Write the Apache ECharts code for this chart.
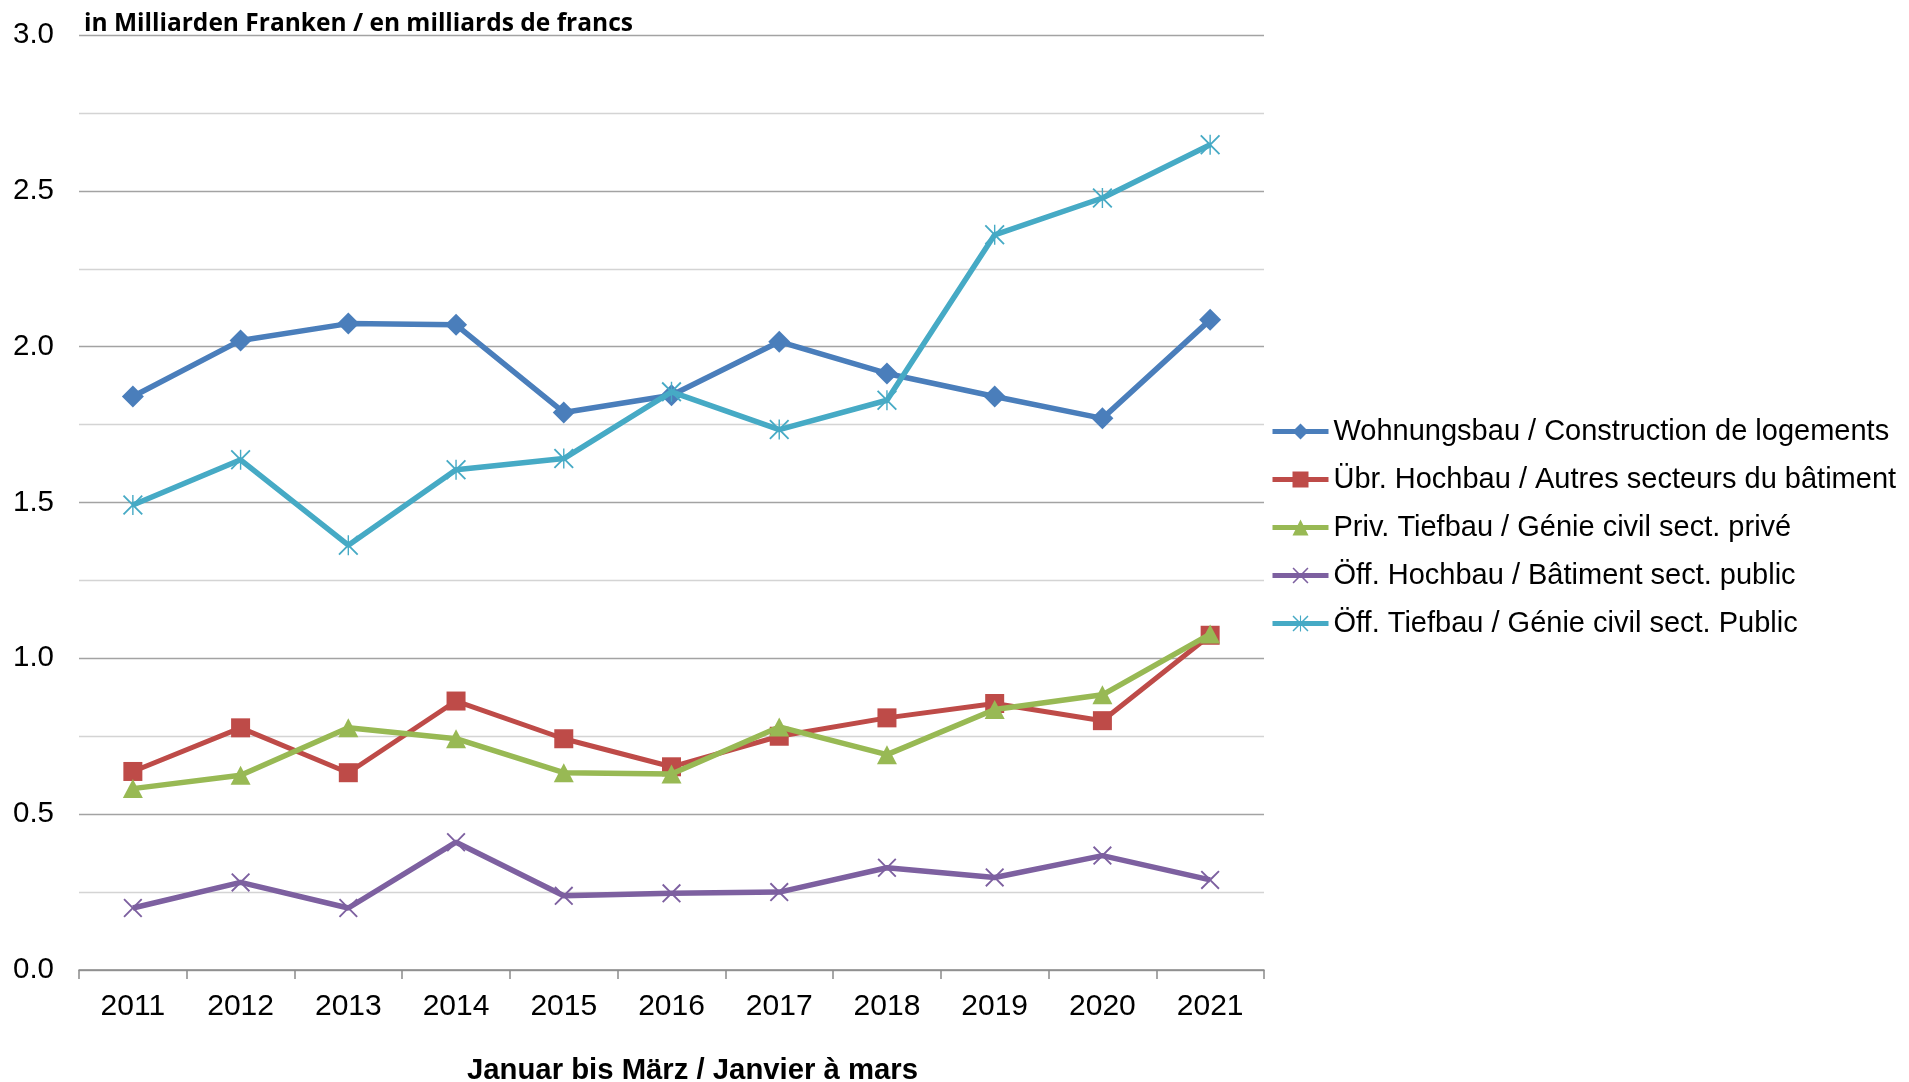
<!DOCTYPE html>
<html>
<head>
<meta charset="utf-8">
<script src="https://cdn.jsdelivr.net/npm/echarts@6/dist/echarts.min.js"></script>
<style>html,body{margin:0;padding:0;background:#fff}#c{width:1909px;height:1082px}</style>
</head>
<body>
<div id="c"></div>
<script>
const years = ['2011','2012','2013','2014','2015','2016','2017','2018','2019','2020','2021'];
const seriesNames = [
  'Wohnungsbau / Construction de logements',
  'Übr. Hochbau / Autres secteurs du bâtiment',
  'Priv. Tiefbau / Génie civil sect. privé',
  'Öff. Hochbau / Bâtiment sect. public',
  'Öff. Tiefbau / Génie civil sect. Public'
];
const wohnungsbau = [1.84, 2.02, 2.074, 2.07, 1.789, 1.844, 2.016, 1.914, 1.84, 1.77, 2.086];
const uebrHochbau = [0.637, 0.777, 0.633, 0.863, 0.742, 0.652, 0.75, 0.809, 0.855, 0.80, 1.074];
const privTiefbau = [0.582, 0.625, 0.777, 0.742, 0.633, 0.629, 0.78, 0.691, 0.836, 0.883, 1.078];
const oeffHochbau = [0.199, 0.281, 0.199, 0.41, 0.238, 0.246, 0.25, 0.328, 0.297, 0.367, 0.289];
const oeffTiefbau = [1.492, 1.637, 1.363, 1.605, 1.641, 1.855, 1.734, 1.828, 2.359, 2.477, 2.648];
const titleText = 'in Milliarden Franken / en milliards de francs';
const xAxisTitle = 'Januar bis März / Janvier à mars';

const colors = ['#4a7ebb', '#be4b48', '#98b954', '#7d60a0', '#46aac5'];
const xPath = 'path://M0,1.4L1.4,0L10,8.6L18.6,0L20,1.4L11.4,10L20,18.6L18.6,20L10,11.4L1.4,20L0,18.6L8.6,10Z';
const starPath = 'path://M0,1.3L1.3,0L10,8.7L18.7,0L20,1.3L11.3,10L20,18.7L18.7,20L10,11.3L1.3,20L0,18.7L8.7,10Z M9.3,0L10.7,0L10.7,20L9.3,20Z';

const chart = echarts.init(document.getElementById('c'));
const font = 'Liberation Sans, Arial, sans-serif';
function mk(i, data, symbol, size, lw) {
  return {
    name: seriesNames[i], type: 'line', data: data,
    symbol: symbol, symbolSize: size, showAllSymbol: true,
    lineStyle: { color: colors[i], width: lw },
    itemStyle: { color: colors[i] },
    emphasis: { disabled: true }, animation: false, z: 2 + i
  };
}
chart.setOption({
  animation: false,
  color: colors,
  title: {
    text: titleText, left: 79, top: 7,
    textStyle: { fontFamily: 'Open Sans, sans-serif', fontWeight: 'bold', fontSize: 24.5, color: '#000' }
  },
  grid: { left: 79, right: 645, top: 35, bottom: 112, containLabel: false, outerBoundsMode: 'none' },
  legend: {
    orient: 'vertical', left: 1265, top: 412, itemGap: 19,
    itemWidth: 56, itemHeight: 20,
    lineStyle: { width: 5 },
    textStyle: { fontFamily: font, fontSize: 29, color: '#000' },
    data: seriesNames
  },
  xAxis: {
    type: 'category', data: years, boundaryGap: true,
    name: xAxisTitle, nameLocation: 'middle', nameGap: 86,
    nameTextStyle: { fontFamily: font, fontWeight: 'bold', fontSize: 29.3, color: '#000', padding: [0, 0, 0, 42] },
    axisLine: { lineStyle: { color: '#8a8a8a', width: 1.5 } },
    axisTick: { show: true, alignWithLabel: false, length: 9, lineStyle: { color: '#8a8a8a', width: 1.5 } },
    axisLabel: { fontFamily: font, fontSize: 30, color: '#000', margin: 22 },
    splitLine: { show: false }
  },
  yAxis: {
    type: 'value', min: 0, max: 3, interval: 0.25,
    axisLine: { show: false }, axisTick: { show: false },
    axisLabel: {
      fontFamily: font, fontSize: 29.5, color: '#000', margin: 25,
      formatter: v => (Math.round(v * 100) % 50 === 0) ? v.toFixed(1) : ''
    },
    splitLine: { show: true, lineStyle: { color: ['#a3a3a3', '#d4d4d4'], width: 1.3 } }
  },
  series: [
    mk(0, wohnungsbau, 'diamond', [22, 22], 5.5),
    mk(1, uebrHochbau, 'rect', [19, 19], 5),
    mk(2, privTiefbau, 'triangle', [20, 19], 5.5),
    mk(3, oeffHochbau, xPath, [19, 19], 5.5),
    mk(4, oeffTiefbau, starPath, [20, 20], 5.5)
  ]
});
</script>
</body>
</html>
